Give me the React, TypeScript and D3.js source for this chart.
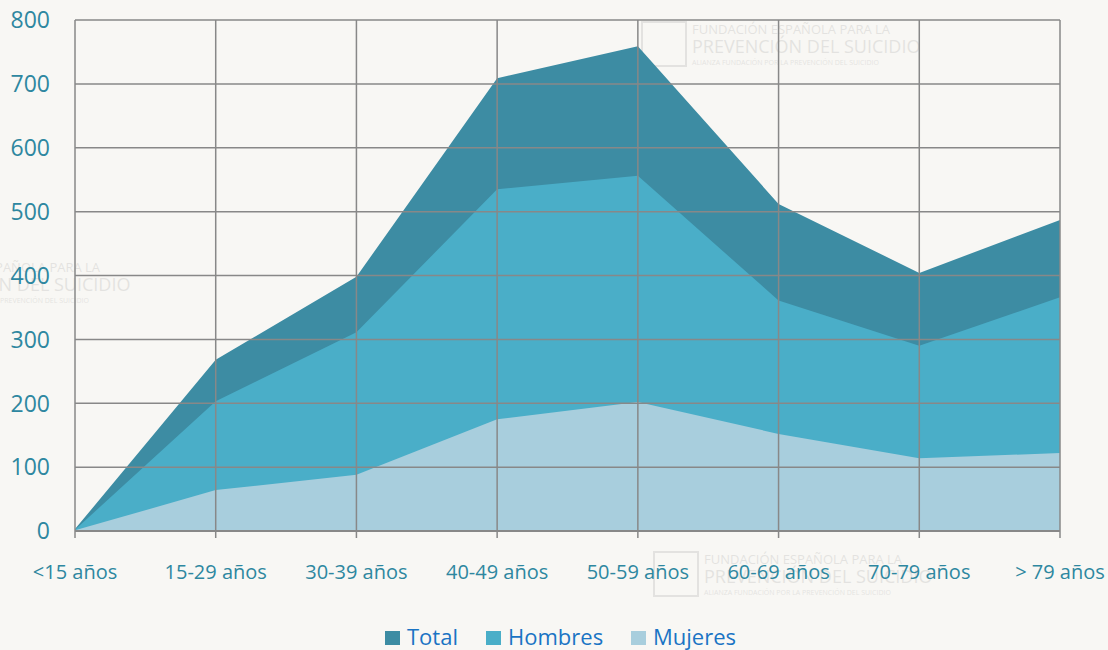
import React, { useEffect, useRef } from 'react';
import * as d3 from 'd3';

const categories = ['<15 años', '15-29 años', '30-39 años', '40-49 años', '50-59 años', '60-69 años', '70-79 años', '> 79 años'];
const total = [3, 268, 398, 709, 759, 512, 404, 487];
const hombres = [2, 203, 311, 535, 556, 361, 290, 366];
const mujeres = [1, 64, 88, 175, 202, 152, 114, 122];
const yTicks = [0, 100, 200, 300, 400, 500, 600, 700, 800];
const seriesNames = ['Total', 'Hombres', 'Mujeres'];
const seriesColors = ['#3d8ca3', '#4aaec8', '#a8cedd'];

const App = () => {
  const ref = useRef<SVGSVGElement>(null);

  useEffect(() => {
    const svg = d3.select(ref.current);
    svg.selectAll('*').remove();

    const margin = { top: 20, right: 48, bottom: 119, left: 75 };
    const W = 1108, H = 650;
    const width = W - margin.left - margin.right;
    const height = H - margin.top - margin.bottom;

    svg.append('rect').attr('width', W).attr('height', H).attr('fill', '#f8f7f4');

    // faint watermarks (from the source image)
    const marks = [[640, 20], [-150, 258], [652, 550]];
    marks.forEach(([mx, my]) => {
      const wg = svg.append('g').attr('transform', `translate(${mx},${my})`).attr('opacity', 0.12)
        .style('font-family', '"Open Sans", sans-serif').attr('fill', '#555');
      wg.append('rect').attr('x', 2).attr('y', 2).attr('width', 44).attr('height', 44)
        .attr('fill', 'none').attr('stroke', '#555').attr('stroke-width', 2);
      wg.append('text').attr('x', 52).attr('y', 14).attr('font-size', 13).text('FUNDACIÓN ESPAÑOLA PARA LA');
      wg.append('text').attr('x', 52).attr('y', 33).attr('font-size', 18).text('PREVENCIÓN DEL SUICIDIO');
      wg.append('text').attr('x', 52).attr('y', 45).attr('font-size', 7).text('ALIANZA FUNDACIÓN POR LA PREVENCIÓN DEL SUICIDIO');
    });

    const g = svg.append('g').attr('transform', `translate(${margin.left},${margin.top})`);

    const x = d3.scalePoint<string>().domain(categories).range([0, width]);
    const y = d3.scaleLinear().domain([0, 800]).range([height, 0]);

    const data = [total, hombres, mujeres];
    data.forEach((vals, i) => {
      const area = d3.area<number>()
        .x((_, j) => x(categories[j]) as number)
        .y0(y(0))
        .y1(d => y(d));
      g.append('path').datum(vals).attr('d', area).attr('fill', seriesColors[i]);
    });

    // grid
    g.selectAll('.hgrid').data(yTicks.slice(1)).enter().append('line')
      .attr('x1', 0).attr('x2', width)
      .attr('y1', d => y(d)).attr('y2', d => y(d))
      .attr('stroke', '#888').attr('stroke-width', 1.5);
    g.selectAll('.vgrid').data(categories).enter().append('line')
      .attr('x1', d => x(d) as number).attr('x2', d => x(d) as number)
      .attr('y1', 0).attr('y2', height + 7)
      .attr('stroke', '#888').attr('stroke-width', 1.5);
    g.append('line').attr('x1', 0).attr('x2', width).attr('y1', height).attr('y2', height)
      .attr('stroke', '#888').attr('stroke-width', 2);

    // y labels
    g.selectAll('.ylab').data(yTicks).enter().append('text')
      .attr('x', -25).attr('y', d => y(d)).attr('dy', '0.36em')
      .attr('text-anchor', 'end').attr('font-size', 23)
      .attr('fill', '#2e87a0').style('font-family', '"Open Sans", sans-serif')
      .text(d => d);

    // x labels
    g.selectAll('.xlab').data(categories).enter().append('text')
      .attr('x', d => x(d) as number).attr('y', height + 48)
      .attr('text-anchor', 'middle').attr('font-size', 20)
      .attr('fill', '#2e87a0').style('font-family', '"Open Sans", sans-serif')
      .text(d => d);

    // legend
    const legendX = [385, 486, 631];
    const lg = svg.append('g').style('font-family', '"Open Sans", sans-serif');
    seriesNames.forEach((n, i) => {
      lg.append('rect').attr('x', legendX[i]).attr('y', 631).attr('width', 15).attr('height', 14).attr('fill', seriesColors[i]);
      lg.append('text').attr('x', legendX[i] + 22).attr('y', 645).attr('font-size', 22)
        .attr('fill', '#1a74c4').text(n);
    });
  }, []);

  return <svg ref={ref} width={1108} height={650} style={{ display: 'block', position: 'absolute', left: 0, top: 0 }} />;
};

export default App;
